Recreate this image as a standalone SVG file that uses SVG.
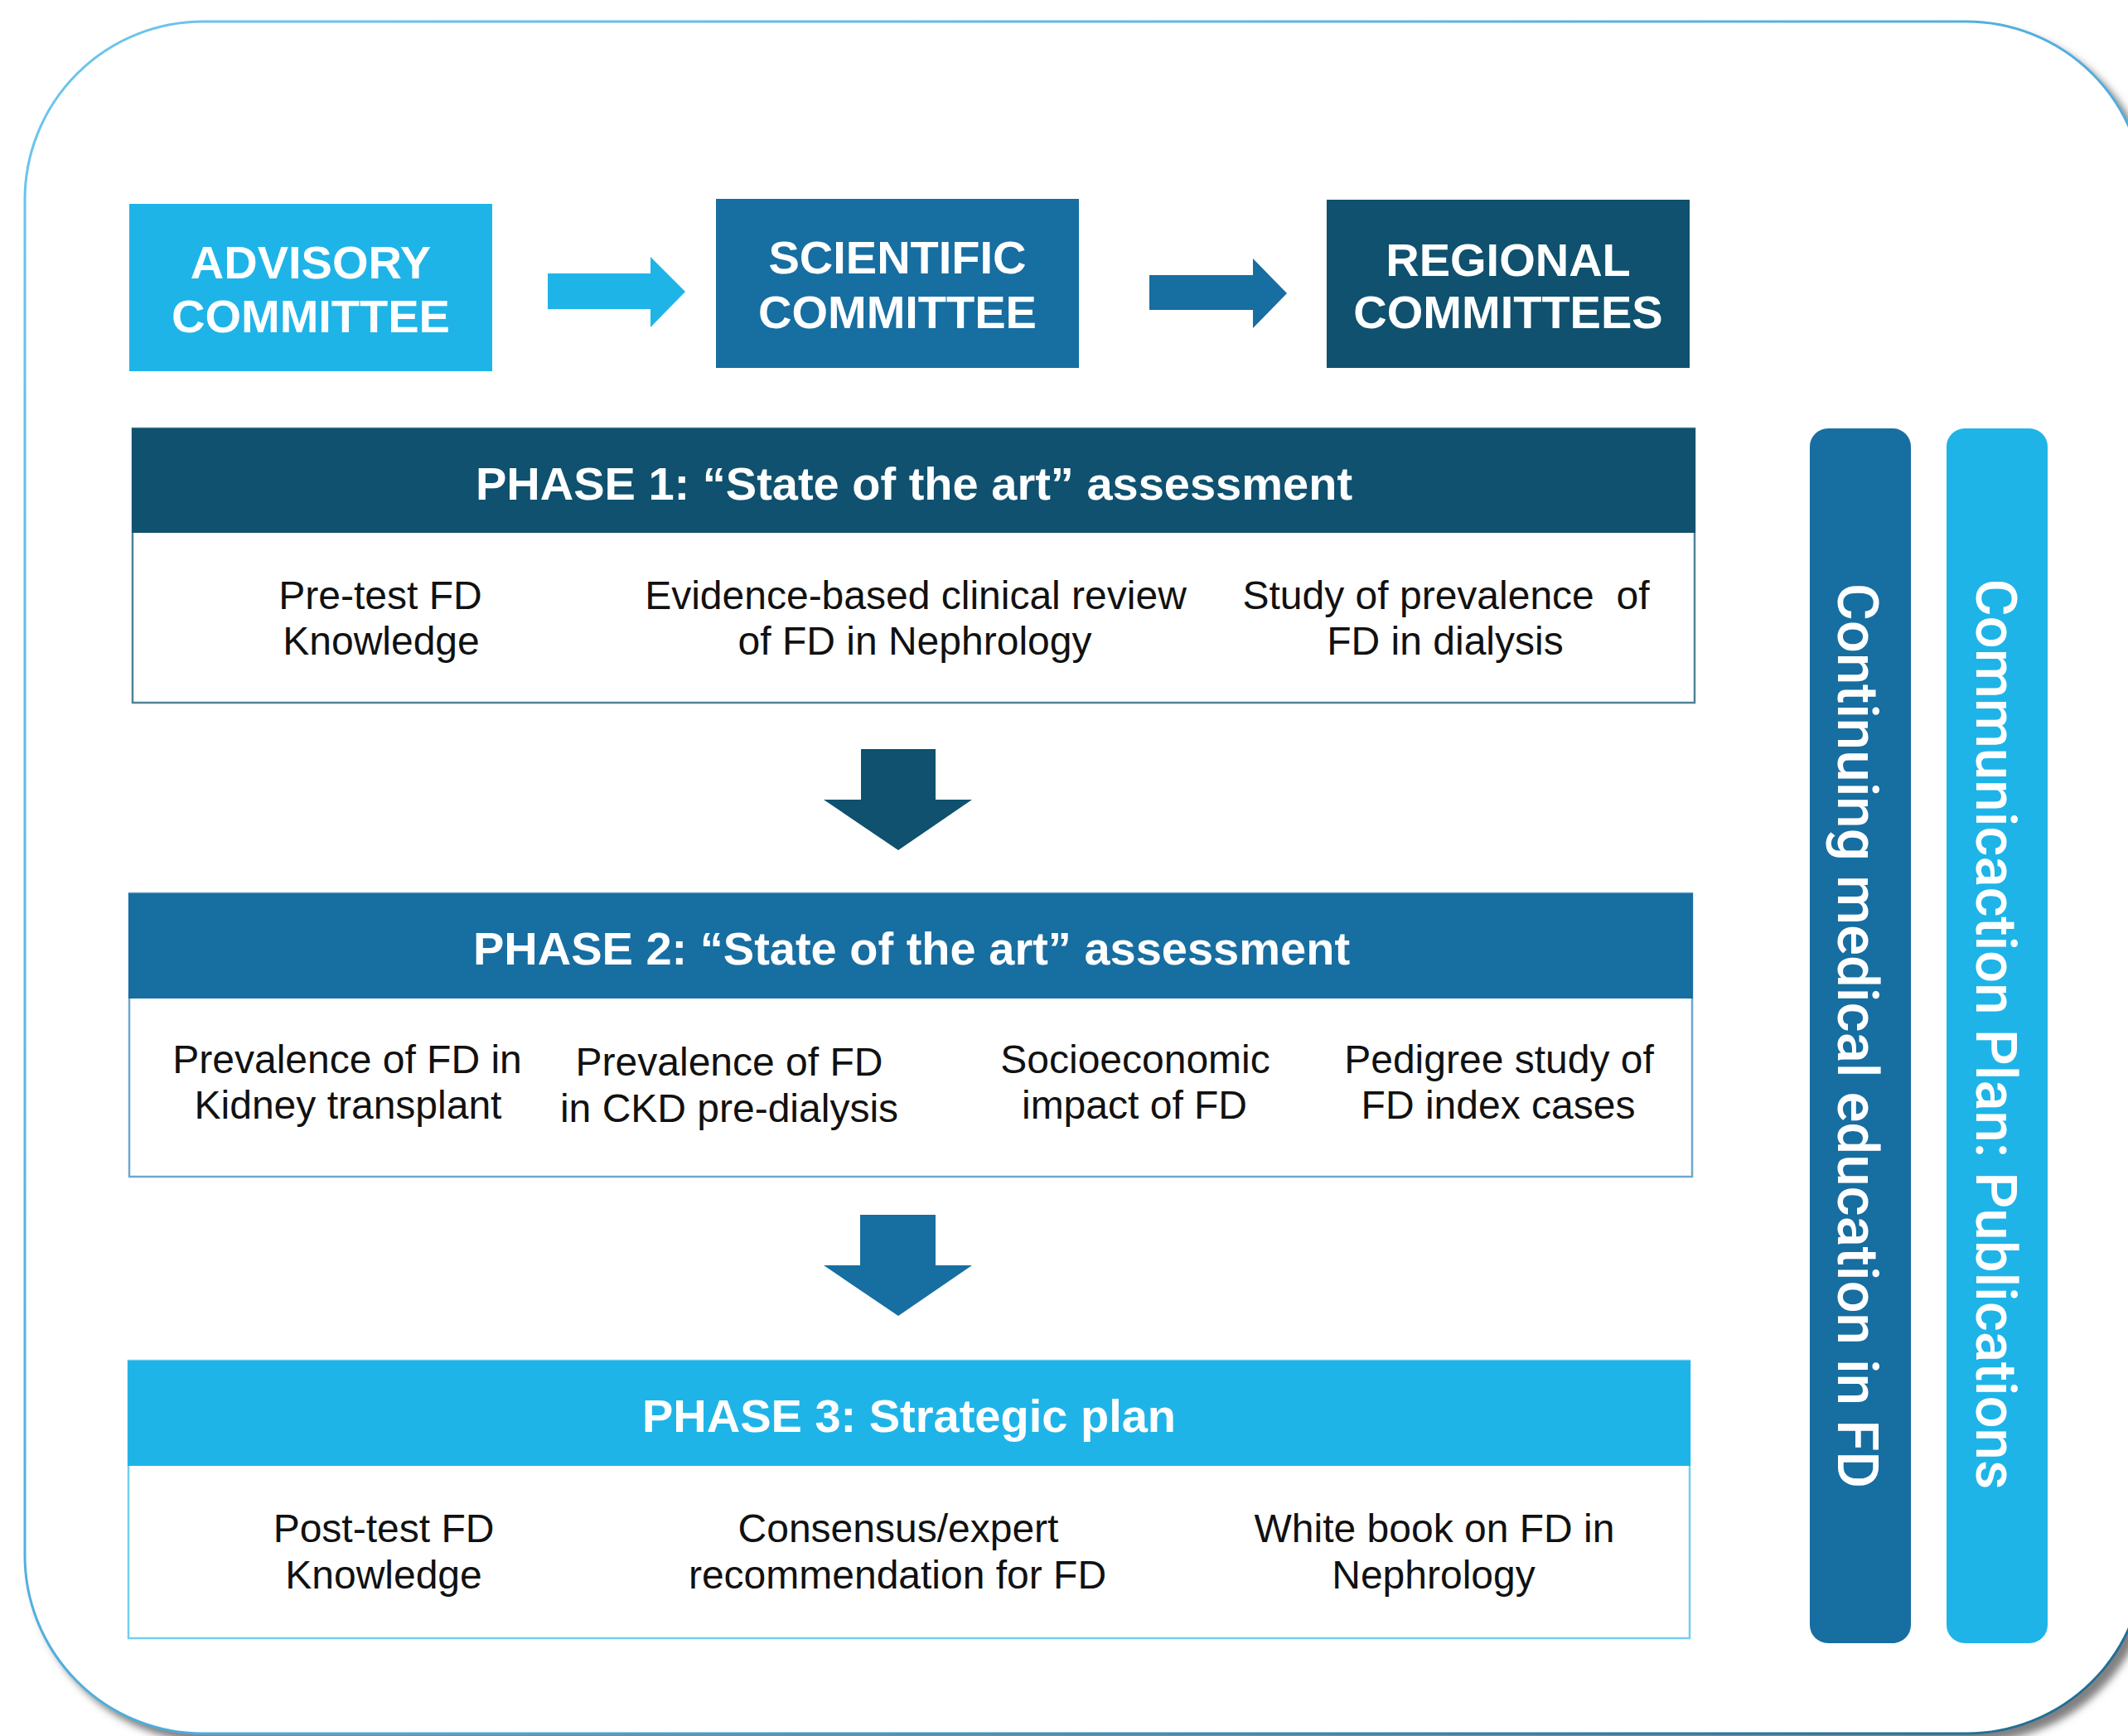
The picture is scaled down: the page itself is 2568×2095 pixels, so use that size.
<svg xmlns="http://www.w3.org/2000/svg" width="2568" height="2095" viewBox="0 0 2568 2095">
  <defs>
    <linearGradient id="frameStroke" x1="0" y1="0" x2="1" y2="1">
      <stop offset="0" stop-color="#6cc6ee"/>
      <stop offset="0.6" stop-color="#4aa9d8"/>
      <stop offset="1" stop-color="#1d6a8f"/>
    </linearGradient>
    <filter id="frameShadow" x="-5%" y="-5%" width="115%" height="115%">
      <feDropShadow dx="9" dy="9" stdDeviation="5" flood-color="#6a6a6a" flood-opacity="0.85"/>
    </filter>
  </defs>
  <style>
    .c-light { fill: #1fb4e8; }
    .c-mid { fill: #176ea1; }
    .c-dark { fill: #0f516e; }
    .head { font-family: "Liberation Sans", Arial, sans-serif; font-weight: bold; fill: #ffffff; text-anchor: middle; }
    .cmte { font-size: 56px; }
    .phase { font-size: 56px; }
    .body { font-family: "Liberation Sans", Arial, sans-serif; font-size: 48px; fill: #111111; text-anchor: middle; }
    .side { font-family: Roboto, "Liberation Sans", sans-serif; font-size: 69px; font-weight: 500; fill: #ffffff; text-anchor: middle; }
    .panel { fill: #ffffff; stroke-width: 2.5; }
  </style>

  <rect width="2568" height="2095" fill="#ffffff"/>

  <!-- outer rounded frame -->
  <g id="frame">
    <rect x="30" y="26" width="2558" height="2066" rx="215" ry="215" fill="#ffffff" stroke="url(#frameStroke)" stroke-width="3" filter="url(#frameShadow)"/>
  </g>

  <!-- committees -->
  <g id="advisory-committee">
    <rect x="156" y="246" width="438" height="202" class="c-light"/>
    <text class="head cmte" x="375" y="336">ADVISORY</text>
    <text class="head cmte" x="375" y="401">COMMITTEE</text>
  </g>
  <g id="scientific-committee">
    <rect x="864" y="240" width="438" height="204" class="c-mid"/>
    <text class="head cmte" x="1083" y="330">SCIENTIFIC</text>
    <text class="head cmte" x="1083" y="396">COMMITTEE</text>
  </g>
  <g id="regional-committees">
    <rect x="1601" y="241" width="438" height="203" class="c-dark"/>
    <text class="head cmte" x="1820" y="333">REGIONAL</text>
    <text class="head cmte" x="1820" y="396">COMMITTEES</text>
  </g>

  <!-- phase 1 -->
  <g id="phase-1">
    <rect x="160" y="517" width="1885" height="331" class="panel" stroke="#4f8299"/>
    <rect x="159" y="517" width="1887" height="126" class="c-dark"/>
    <text class="head phase" x="1103" y="603">PHASE 1: “State of the art” assessment</text>
    <text class="body" x="459" y="735">Pre-test FD</text>
    <text class="body" x="460" y="790">Knowledge</text>
    <text class="body" x="1105" y="735">Evidence-based clinical review</text>
    <text class="body" x="1104" y="790">of FD in Nephrology</text>
    <text class="body" x="1745" y="735" xml:space="preserve" style="white-space:pre">Study of prevalence  of</text>
    <text class="body" x="1744" y="790">FD in dialysis</text>
  </g>

  <!-- phase 2 -->
  <g id="phase-2">
    <rect x="156" y="1078" width="1886" height="342" class="panel" stroke="#6ea8cd"/>
    <rect x="155" y="1078" width="1888" height="127" class="c-mid"/>
    <text class="head phase" x="1100" y="1164">PHASE 2: “State of the art” assessment</text>
    <text class="body" x="419" y="1295">Prevalence of FD in</text>
    <text class="body" x="420" y="1350">Kidney transplant</text>
    <text class="body" x="880" y="1298">Prevalence of FD</text>
    <text class="body" x="880" y="1354">in CKD pre-dialysis</text>
    <text class="body" x="1370" y="1295">Socioeconomic</text>
    <text class="body" x="1369" y="1350">impact of FD</text>
    <text class="body" x="1809" y="1295">Pedigree study of</text>
    <text class="body" x="1808" y="1350">FD index cases</text>
  </g>

  <!-- phase 3 -->
  <g id="phase-3">
    <rect x="155" y="1642" width="1884" height="335" class="panel" stroke="#72cff0"/>
    <rect x="154" y="1642" width="1886" height="127" class="c-light"/>
    <text class="head phase" x="1097" y="1728">PHASE 3: Strategic plan</text>
    <text class="body" x="463" y="1861">Post-test FD</text>
    <text class="body" x="463" y="1917">Knowledge</text>
    <text class="body" x="1084" y="1861">Consensus/expert</text>
    <text class="body" x="1083" y="1917">recommendation for FD</text>
    <text class="body" x="1731" y="1861">White book on FD in</text>
    <text class="body" x="1730" y="1917">Nephrology</text>
  </g>

  <!-- cross-cutting side bars -->
  <g id="continuing-education">
    <rect x="2184" y="517" width="122" height="1466" rx="22" ry="22" class="c-mid"/>
    <text class="side" transform="translate(2218 1250) rotate(90)">Continuing medical education in FD</text>
  </g>
  <g id="communication-plan">
    <rect x="2349" y="517" width="122" height="1466" rx="22" ry="22" class="c-light"/>
    <text class="side" transform="translate(2385 1248) rotate(90)">Communicaction Plan: Publications</text>
  </g>

  <!-- block arrows -->
  <g id="connectors">
    <polygon class="c-light" points="661,330 785,330 785,310 827,352 785,395 785,373 661,373"/>
    <polygon class="c-mid" points="1387,332 1512,332 1512,312 1553,354 1512,396 1512,374 1387,374"/>
    <polygon class="c-dark" points="1039,904 1129,904 1129,965 1173,965 1084,1026 994,965 1039,965"/>
    <polygon class="c-mid" points="1038,1466 1129,1466 1129,1527 1173,1527 1084,1588 994,1527 1038,1527"/>
  </g>
</svg>
